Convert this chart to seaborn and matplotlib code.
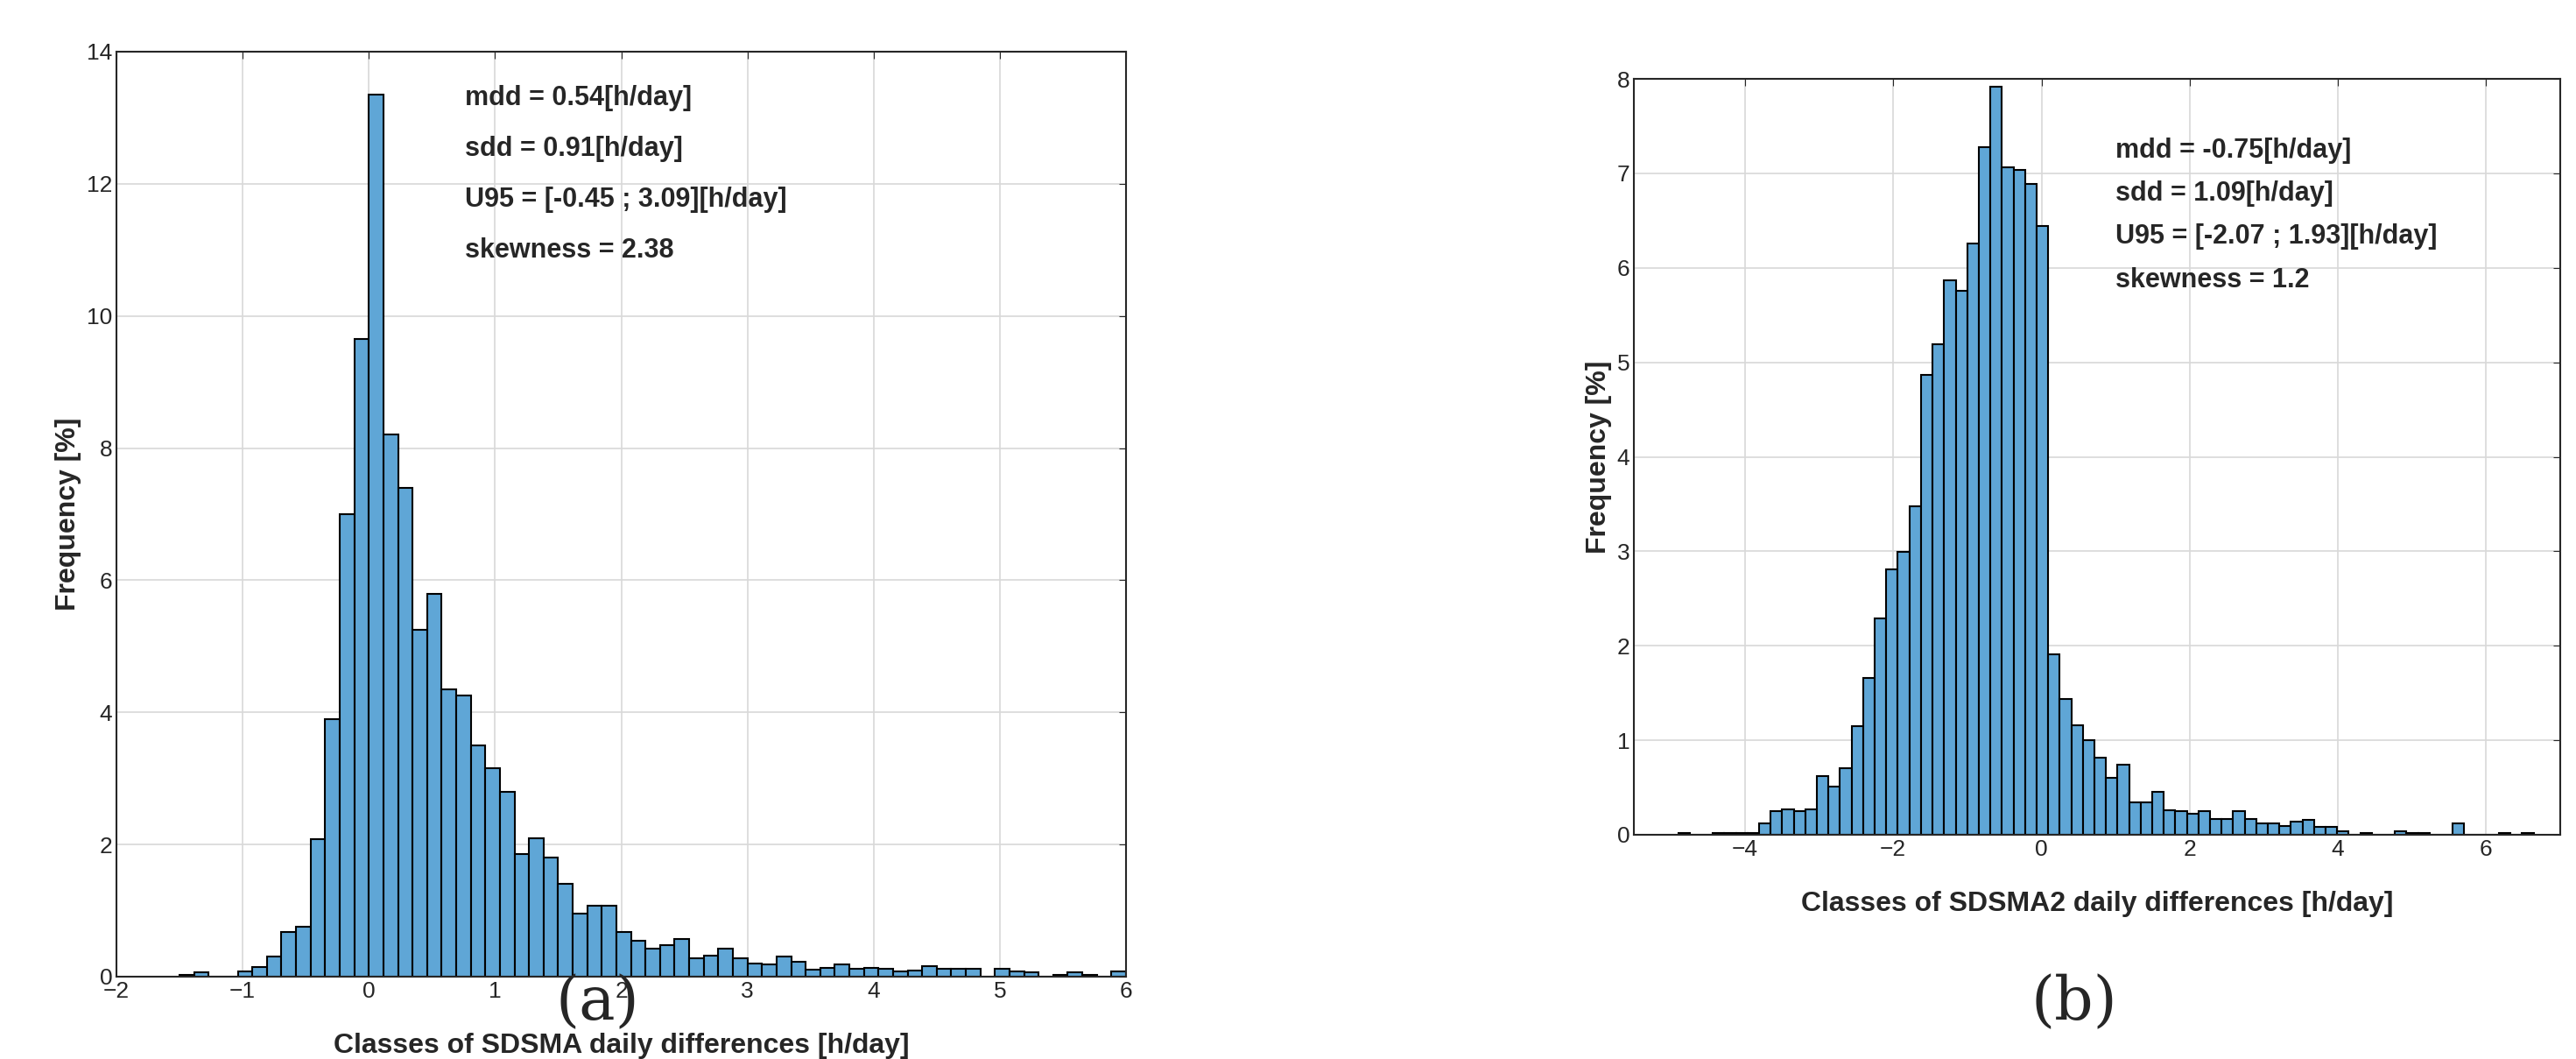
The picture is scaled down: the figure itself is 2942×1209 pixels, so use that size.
import numpy as np
import pandas as pd
import matplotlib
matplotlib.use("Agg")
import matplotlib.pyplot as plt
import seaborn as sns

sns.set_style("whitegrid")
plt.rcParams['font.family'] = ['Liberation Sans', 'DejaVu Sans']

# panel (a): SDSMA, bins start -1.5, 65 bins to 6.0
a_start, a_width = -1.5, 7.5 / 65
a_freq = [0.03, 0.07, 0, 0, 0.08, 0.15, 0.3, 0.68, 0.75, 2.08, 3.9, 7.0, 9.65, 13.35,
          8.2, 7.4, 5.25, 5.8, 4.35, 4.25, 3.5, 3.15, 2.8, 1.85, 2.1, 1.8, 1.4, 0.95,
          1.07, 1.08, 0.67, 0.55, 0.42, 0.48, 0.57, 0.28, 0.32, 0.43, 0.28, 0.2, 0.18,
          0.3, 0.22, 0.11, 0.13, 0.18, 0.12, 0.13, 0.12, 0.08, 0.09, 0.16, 0.12, 0.12,
          0.12, 0, 0.12, 0.08, 0.07, 0, 0.03, 0.07, 0.03, 0, 0.08]
a_stats = ["mdd = 0.54[h/day]", "sdd = 0.91[h/day]",
           "U95 = [-0.45 ; 3.09][h/day]", "skewness = 2.38"]

# panel (b): SDSMA2, bins start -4.902, width 0.156
b_start, b_width = -4.902, 0.156
b_freq = [0.02, 0, 0, 0.02, 0.02, 0.02, 0.02, 0.12, 0.25, 0.27, 0.25, 0.27, 0.62, 0.51,
          0.70, 1.15, 1.66, 2.29, 2.81, 2.99, 3.48, 4.87, 5.19, 5.87, 5.76, 6.26, 7.28,
          7.92, 7.06, 7.04, 6.89, 6.44, 1.91, 1.44, 1.16, 1.0, 0.82, 0.6, 0.74, 0.34,
          0.34, 0.45, 0.26, 0.25, 0.22, 0.25, 0.17, 0.17, 0.25, 0.17, 0.12, 0.12, 0.09,
          0.14, 0.16, 0.08, 0.08, 0.04, 0, 0.02, 0, 0, 0.04, 0.02, 0.02, 0, 0, 0.12,
          0, 0, 0, 0.02, 0, 0.02]
b_stats = ["mdd = -0.75[h/day]", "sdd = 1.09[h/day]",
           "U95 = [-2.07 ; 1.93][h/day]", "skewness = 1.2"]

bar_color = "#5fa6d6"

fig = plt.figure(figsize=(29.42, 12.09), dpi=100)
ax1 = fig.add_axes([133 / 2942, 1 - 1115 / 1209, 1153 / 2942, 1056 / 1209])
ax2 = fig.add_axes([1866 / 2942, 1 - 953 / 1209, 1058 / 2942, 863 / 1209])


def draw(ax, start, width, freq, stats, xlabel, xlim, ylim, xticks, yticks, tx, ty, dy):
    n = len(freq)
    edges = start + width * np.arange(n + 1)
    df = pd.DataFrame({"x": edges[:-1] + width / 2, "w": freq})
    sns.histplot(data=df, x="x", weights="w", bins=list(edges), ax=ax,
                 color=bar_color, alpha=1, edgecolor="black", linewidth=1.5)
    ax.set_xlim(*xlim)
    ax.set_ylim(*ylim)
    ax.set_xticks(xticks)
    ax.set_yticks(yticks)
    ax.tick_params(labelsize=19, colors="#262626", length=6, direction="in",
                   top=True, right=True)
    ax.grid(True, color="#d8d8d8", linewidth=1.2)
    ax.set_axisbelow(True)
    for s in ax.spines.values():
        s.set_color("#262626")
        s.set_linewidth(1.5)
    ax.set_xlabel(xlabel, fontsize=23, fontweight="bold", labelpad=25)
    ax.set_ylabel("Frequency [%]", fontsize=23, fontweight="bold")
    for i, t in enumerate(stats):
        ax.text(tx, ty - i * dy, t, transform=ax.transAxes, fontsize=22,
                fontweight="bold", va="center")


draw(ax1, a_start, a_width, a_freq, a_stats,
     "Classes of SDSMA daily differences [h/day]", (-2, 6), (0, 14),
     range(-2, 7), range(0, 15, 2), 0.345, 0.95, 0.055)
draw(ax2, b_start, b_width, b_freq, b_stats,
     "Classes of SDSMA2 daily differences [h/day]", (-5.5, 7), (0, 8),
     range(-4, 7, 2), range(0, 9), 0.52, 0.905, 0.057)

fig.text(682 / 2942, 1 - 1145 / 1209, "(a)", fontsize=50, family="DejaVu Serif",
         ha="center", va="center")
fig.text(2369 / 2942, 1 - 1145 / 1209, "(b)", fontsize=50, family="DejaVu Serif",
         ha="center", va="center")

fig.savefig("out.png", dpi=100)
